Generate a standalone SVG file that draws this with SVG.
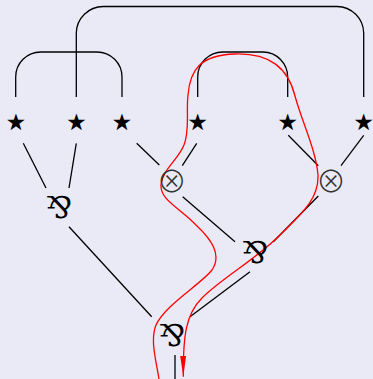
<svg xmlns="http://www.w3.org/2000/svg" width="373" height="379" viewBox="0 0 373 379">
  <style>
    .wire { fill: none; stroke: #000; stroke-width: 1.3; }
    .flow { fill: none; stroke: #ff0000; stroke-width: 1.3; }
    .star { font-family: "DejaVu Sans", sans-serif; font-size: 46px; fill: #000; text-anchor: middle; }
    .tens { font-family: "Noto Sans CJK JP", sans-serif; font-weight: 300; font-size: 30px; fill: #333; text-anchor: middle; }
    .par { font-family: "DejaVu Serif", "DejaVu Sans", serif; font-size: 30px; fill: #000; text-anchor: middle; }
  </style>
  <defs>
    <marker id="redhead" viewBox="0 0 21 6" refX="21" refY="3" markerWidth="21" markerHeight="6" markerUnits="userSpaceOnUse" preserveAspectRatio="none" orient="auto">
      <path d="M0,0 L21,3 L0,6 z" fill="#ff0000"/>
    </marker>
  </defs>
  <rect width="373" height="379" fill="#eaeaf6"/>

  <g id="connectors">
    <!-- axiom links above the stars -->
    <path class="wire" d="M15.7,97 V77 A25,25 0 0 1 40.7,52 H97 A25,25 0 0 1 122,77 V97"/>
    <path class="wire" d="M76.3,97 V33 A27,27 0 0 1 103.3,6.5 H337 A27,27 0 0 1 363.7,33 V97"/>
    <path class="wire" d="M197.7,97 V77 A25,25 0 0 1 222.7,52 H263 A25,25 0 0 1 287.7,77 V97"/>
    <!-- premises into rules -->
    <line class="wire" x1="23.3" y1="143.3" x2="46" y2="188"/>
    <line class="wire" x1="76.3" y1="143.3" x2="69" y2="188"/>
    <line class="wire" x1="136.7" y1="143.3" x2="159.3" y2="165"/>
    <line class="wire" x1="196.7" y1="143.3" x2="182.3" y2="165.7"/>
    <line class="wire" x1="288.3" y1="135.3" x2="318.3" y2="165.7"/>
    <line class="wire" x1="363.7" y1="135.3" x2="341" y2="165.7"/>
    <line class="wire" x1="182.7" y1="196.7" x2="235" y2="241.7"/>
    <line class="wire" x1="318.3" y1="196" x2="273.3" y2="241.7"/>
    <line class="wire" x1="69" y1="226.7" x2="151.7" y2="316.7"/>
    <line class="wire" x1="250" y1="271.7" x2="190" y2="316.7"/>
    <line class="wire" x1="175" y1="355" x2="175" y2="379"/>
    <!-- red path through the proof -->
    <path class="flow" marker-end="url(#redhead)" d="M159,379 C156,360 150,340 156,325 C165,305 200,285 212,270 C222,255 212,240 196,225 C180,208 160,200 161,185 C162,170 178,160 184,145 C190,130 186,112 188,95 C190,70 200,55 235,54 C270,53 288,68 295,96 C302,122 316,150 318,175 C319,200 300,215 280,235 C255,260 222,278 202,298 C186,314 183,335 183.3,376.7"/>
  </g>

  <g id="star1"><text class="star" x="16" y="137">⋆</text></g>
  <g id="star2"><text class="star" x="76.3" y="137">⋆</text></g>
  <g id="star3"><text class="star" x="122" y="137">⋆</text></g>
  <g id="star4"><text class="star" x="197.7" y="137">⋆</text></g>
  <g id="star5"><text class="star" x="287.7" y="137">⋆</text></g>
  <g id="star6"><text class="star" x="363.7" y="137">⋆</text></g>

  <g id="tensor1"><text class="tens" x="171.7" y="192">⊗</text></g>
  <g id="tensor2"><text class="tens" x="331" y="192">⊗</text></g>

  <g id="par1"><text class="par" x="59" y="218">⅋</text></g>
  <g id="par2"><text class="par" x="255" y="263">⅋</text></g>
  <g id="par3"><text class="par" x="172" y="346">⅋</text></g>
</svg>
